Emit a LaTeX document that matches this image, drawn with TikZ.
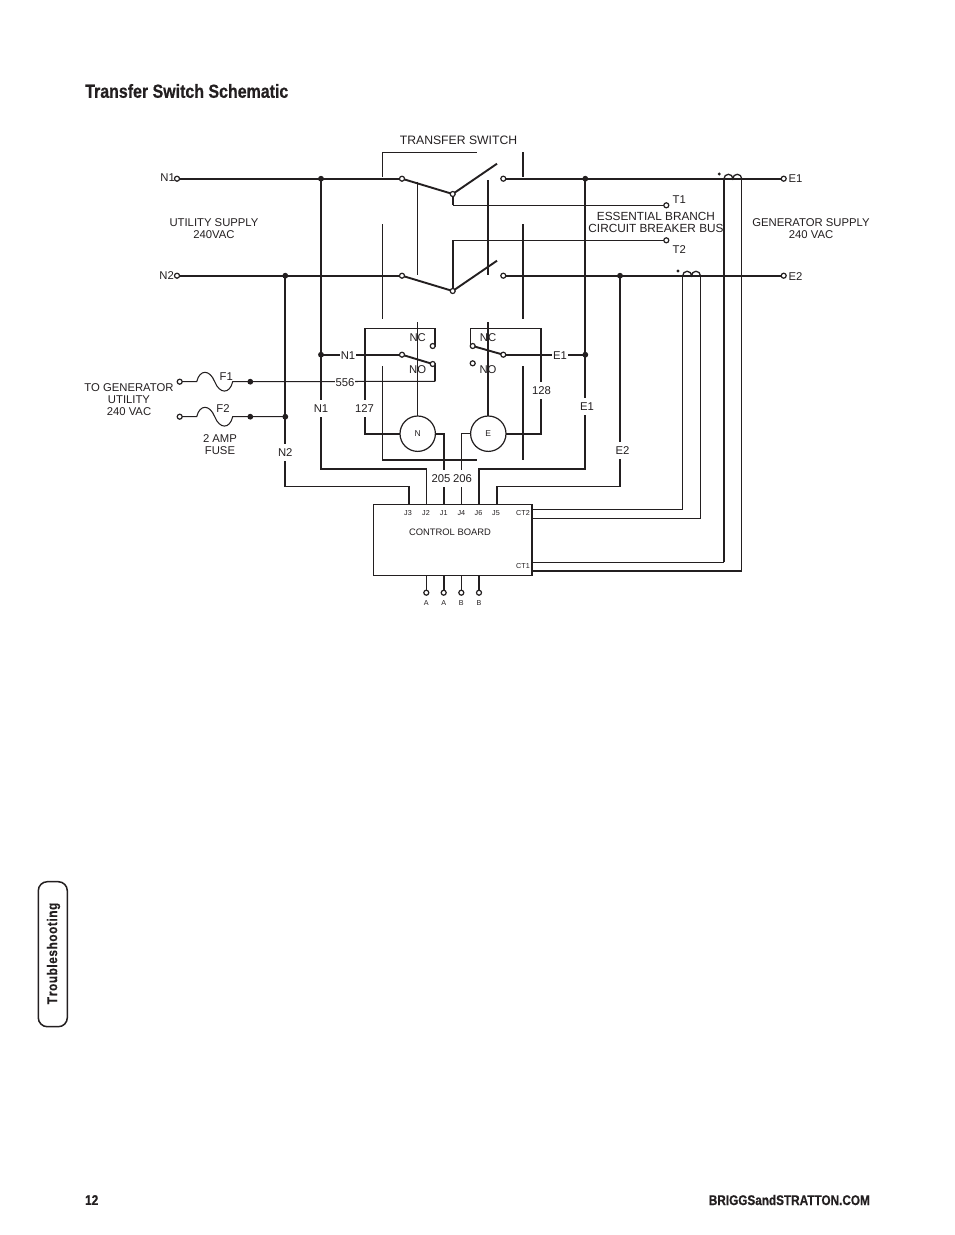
\documentclass[tikz,border=0pt]{standalone}
\usepackage{fontspec}
\setmainfont{Liberation Sans}
\newfontfamily\narrowbold[FakeStretch=0.84,FakeBold=0.5]{Liberation Sans Bold}
\definecolor{ink}{HTML}{231F20}
\tikzset{
  heavy/.style={draw=ink,line width=1.9pt},
  light/.style={draw=ink,line width=1.05pt},
  term/.style={circle,draw=ink,fill=white,line width=1.2pt,minimum size=5pt,inner sep=0pt},
  jdot/.style={circle,fill=ink,minimum size=5.8pt,inner sep=0pt},
  sdot/.style={circle,fill=ink,minimum size=3.2pt,inner sep=0pt},
  txt/.style={text=ink,font=\fontsize{11.3}{12}\selectfont,inner sep=0pt,align=center,yshift=-0.7pt},
  gap/.style={txt,fill=white,inner xsep=1pt,inner ysep=1.5pt,minimum height=17pt},
  tiny/.style={text=ink,font=\fontsize{7.2}{8}\selectfont,inner sep=0pt},
  coilc/.style={circle,draw=ink,line width=1.2pt,fill=white,minimum size=35.4pt,inner sep=0pt,text=ink,font=\fontsize{8.5}{9}\selectfont},
}
\begin{document}
\begin{tikzpicture}[x=1pt,y=-1pt]
\useasboundingbox (0,0) rectangle (954,1235);
\fill[white] (0,0) rectangle (954,1235);
% title, footer, tab
\node[anchor=west,inner sep=0pt,text=ink,font=\narrowbold\fontsize{19}{20}\selectfont] (title) at (85,91) {Transfer Switch Schematic};
\node[anchor=west,inner sep=0pt,text=ink,font=\narrowbold\fontsize{14}{16}\selectfont] (pg) at (85,1200) {12};
\node[anchor=east,inner sep=0pt,text=ink,font=\narrowbold\fontsize{14}{16}\selectfont] (site) at (870,1200) {BRIGGSandSTRATTON.COM};
\node[draw=ink,line width=1.5pt,rounded corners=9pt,minimum width=29pt,minimum height=145pt,inner sep=0pt] (tab) at (52.8,954.2) {};
\node[rotate=90,inner sep=0pt,text=ink,font=\narrowbold\fontsize{14}{16}\selectfont] (tabt) at (53.5,953.5) {T\kern1pt r\kern.6pt o\kern.6pt u\kern.6pt b\kern.6pt l\kern.6pt e\kern.6pt s\kern.6pt h\kern.6pt o\kern.6pt o\kern.6pt t\kern.6pt i\kern.6pt n\kern.6pt g};

% coordinates
\coordinate (t1L) at (402,178.7);  \coordinate (t2L) at (402,275.7);
\coordinate (c1) at (452.7,194);   \coordinate (c2) at (452.7,291);
\coordinate (b1) at (497,163.7);   \coordinate (b2) at (497,260.7);
\coordinate (t1R) at (503.3,178.7);\coordinate (t2R) at (503.3,275.7);
\coordinate (rL) at (402,354.7);   \coordinate (rR) at (503.3,354.7);
\coordinate (nc) at (432.7,346);   \coordinate (no) at (432.7,364);
\coordinate (ncR) at (472.7,346);  \coordinate (noR) at (472.7,363.3);

% control board
\node[draw=ink,line width=1.5pt,fill=white,minimum width=158.3pt,minimum height=70.6pt,inner sep=0pt] (cb) at (452.85,540) {};

% terminals (positions only, drawn on top later)
\coordinate (N1t) at (177,178.7); \coordinate (N2t) at (177,275.7);
\coordinate (E1t) at (783.7,178.7); \coordinate (E2t) at (783.7,275.7);
\coordinate (T1t) at (666.3,205.3); \coordinate (T2t) at (666.3,240.3);
\coordinate (F1t) at (179.7,381.7); \coordinate (F2t) at (179.7,416.7);
\coordinate (j1) at (321,178.7); \coordinate (j2) at (285.3,275.7);
\coordinate (j3) at (585.3,178.7); \coordinate (j4) at (620,275.7);
\coordinate (j5) at (321,354.7); \coordinate (j6) at (585.3,354.7);
\coordinate (j7) at (250.3,381.7); \coordinate (j8) at (250.3,416.7); \coordinate (j9) at (285.3,416.7);

% main wires
\draw[heavy] (N1t) -- (t1L);
\draw[heavy] (N2t) -- (t2L);
\draw[heavy] (t1R) -- (E1t);
\draw[heavy] (t2R) -- (E2t);
\draw[heavy] (t1L) -- (c1) -- (b1);
\draw[heavy] (t2L) -- (c2) -- (b2);
\draw[heavy] (c1) -- (452.7,205.3);
\draw[light] (452.7,205.3) -- (T1t);
\draw[heavy] (c2) -- (452.7,240.3);
\draw[light] (452.7,240.3) -- (T2t);

% transfer switch outline
\draw[light] (382.3,176.7) -- (382.3,152.5) -- (477,152.5);
\draw[light] (382.3,224) -- (382.3,318.7);
\draw[light] (382.3,366) -- (382.3,460) -- (477,460);
\draw[heavy] (523,152) -- (523,177);
\draw[heavy] (523,224) -- (523,319);
\draw[heavy] (523,366) -- (523,460);

% mechanical links
\draw[light] (417.6,181.7) -- (417.6,275);
\draw[heavy] (488,180) -- (488,275);

% long verticals to control board
\draw[heavy] (j1) -- (321,469.3) -- (426.5,469.3);
\draw[light] (426.5,469.3) -- (426.5,504.7);
\draw[heavy] (j2) -- (285.3,486.5) -- (409.3,486.5) -- (409.3,504.7);
\draw[heavy] (j3) -- (585.3,469.3) -- (479,469.3) -- (479,504.7);
\draw[heavy] (j4) -- (620,486.5) -- (496.7,486.5) -- (496.7,504.7);

% coil leads
\draw[heavy] (724,178.7) -- (724,562.3);
\draw[light] (724,562.3) -- (532,562.3);
\draw[light] (741.7,178.7) -- (741.7,570.7);
\draw[heavy] (741.7,570.7) -- (532,570.7);
\draw[light] (682.7,275.7) -- (682.7,509.3) -- (532,509.3);
\draw[light] (700.3,275.7) -- (700.3,518.3) -- (532,518.3);

% current transformers
\foreach \xx/\yy in {724/178.7,682.7/275.7}{
  \draw[draw=ink,line width=1.3pt] (\xx,\yy) arc[start angle=180,end angle=360,radius=4.43] arc[start angle=180,end angle=360,radius=4.43];
}
\node[sdot] (d1) at (719.3,174) {};
\node[sdot] (d2) at (678,271) {};

% relay wiring
\draw[heavy] (j5) -- (rL);
\draw[heavy] (rL) -- (no);
\draw[heavy] (nc) -- (435.3,346) -- (435.3,328.3);
\draw[light] (435.3,328.3) -- (365,328.3);
\draw[heavy] (365,328.3) -- (365,433.7) -- (400,433.7);
\draw[heavy] (no) -- (435.3,364) -- (435.3,381.3);
\draw[light] (435.3,381.3) -- (j7);
\draw[heavy] (rR) -- (ncR);
\draw[heavy] (rR) -- (j6);
\draw[light] (ncR) -- (470.3,346) -- (470.3,328.3) -- (541,328.3);
\draw[heavy] (541,328.3) -- (541,433.7) -- (506,433.7);
\draw[light] (417.6,322) -- (417.6,416.3);
\draw[heavy] (488,322) -- (488,416.3);

% coils
\node[coilc] (N) at (417.7,433.7) {N};
\node[coilc] (E) at (488.3,433.7) {E};
\draw[heavy] (N.east) -- (444,433.7) -- (444,504.7);
\draw[light] (E.west) -- (461.3,433.7) -- (461.3,504.7);

% fuses
\coordinate (f1a) at (196.7,381.7); \coordinate (f2a) at (196.7,416.7);
\draw[light] (F1t) -- (f1a) .. controls +(3,-12.5) and +(-5,-12.5) .. ++(18,0) .. controls +(5,12.5) and +(-3,12.5) .. ++(18,0) -- (j7);
\draw[light] (F2t) -- (f2a) .. controls +(3,-12.5) and +(-5,-12.5) .. ++(18,0) .. controls +(5,12.5) and +(-3,12.5) .. ++(18,0) -- (j8) -- (j9);

% board stubs and terminals
\foreach \nm/\xx/\st/\lab in {a/426.3/light/A,b/443.7/heavy/A,c/461.3/light/B,d/479/heavy/B}{
  \coordinate (s\nm) at (\xx,575.3);
  \node[term] (o\nm) at (\xx,592.7) {};
  \draw[\st] (s\nm) -- (o\nm);
  \node[tiny] (l\nm) at (\xx,603.3) {\lab};
}

% terminals and dots
\foreach \c in {N1t,N2t,E1t,E2t,T1t,T2t,F1t,F2t,t1L,t2L,c1,c2,t1R,t2R,rL,rR,nc,no,ncR,noR}{
  \node[term] (n\c) at (\c) {};
}
\foreach \c in {j1,j2,j3,j4,j5,j6,j7,j8,j9}{
  \node[jdot] (n\c) at (\c) {};
}

% board text
\foreach \xx/\lab in {408/J3,426/J2,443.7/J1,461.3/J4,478.5/J6,496/J5}{
  \node[tiny] at (\xx,513) {\lab};
}
\node[tiny] (ct2) at (523,513) {CT2};
\node[tiny] (ct1) at (523,566) {CT1};
\node[txt,font=\fontsize{9.4}{10}\selectfont] (cbt) at (450,531.5) {CONTROL BOARD};

% wire labels
\node[txt,font=\fontsize{12.2}{13}\selectfont] (ts) at (458.5,140) {TRANSFER SWITCH};
\node[txt,anchor=east] at (175,177) {N1};
\node[txt,anchor=east] at (174,275) {N2};
\node[txt,anchor=west] at (788.5,178) {E1};
\node[txt,anchor=west] at (788.5,276) {E2};
\node[txt,anchor=west] at (672.5,199) {T1};
\node[txt,anchor=west] at (672.5,249) {T2};
\node[txt] at (214,228) {UTILITY SUPPLY\\240VAC};
\node[txt,font=\fontsize{11.8}{12}\selectfont] at (656,222) {ESSENTIAL BRANCH\\CIRCUIT BREAKER BUS};
\node[txt] at (811,228) {GENERATOR SUPPLY\\240 VAC};
\node[txt] at (129,398.7) {TO GENERATOR\\UTILITY\\240 VAC};
\node[txt] at (226.3,376) {F1};
\node[txt] at (223,407.7) {F2};
\node[txt] at (220,444) {2 AMP\\FUSE};
\node[gap] at (321,407.7) {N1};
\node[gap] at (285.3,452) {N2};
\node[gap] at (587,406) {E1};
\node[gap] at (622.5,450) {E2};
\node[gap,minimum height=15pt] at (348,354.7) {N1};
\node[gap,minimum height=15pt] at (345,381.7) {556};
\node[gap,minimum height=15pt] at (560,354.7) {E1};
\node[gap] at (364.5,407.7) {127};
\node[gap] at (541.5,389.7) {128};
\node[gap,inner xsep=0pt] at (441,477.5) {205};
\node[gap,inner xsep=0pt] at (462.5,477.5) {206};
\node[txt] at (417.7,337) {NC};
\node[txt] at (417.7,369) {NO};
\node[txt] at (488,337) {NC};
\node[txt] at (488,369) {NO};
\end{tikzpicture}
\end{document}
